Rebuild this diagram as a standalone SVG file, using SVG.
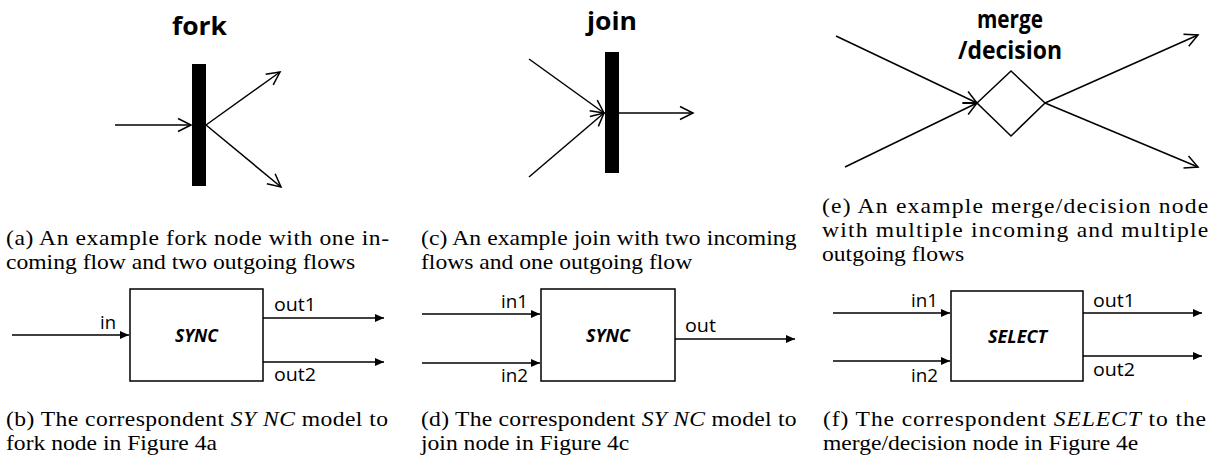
<svg xmlns="http://www.w3.org/2000/svg" width="1219" height="465" viewBox="0 0 1219 465">
<style>
.title{font-family:"Open Sans","Liberation Sans",sans-serif;font-weight:bold;font-size:25px;fill:#000}
.lbl{font-family:"Open Sans","Liberation Sans",sans-serif;font-size:18px;fill:#000}
.blk{font-family:"Open Sans","Liberation Sans",sans-serif;font-size:17px;font-weight:bold;font-style:italic;fill:#000}
.cap{font-family:"Liberation Serif","Times New Roman",serif;font-size:22px;fill:#000}
.flow{stroke:#000;stroke-width:1.5;fill:none;marker-end:url(#open)}
.sig{stroke:#000;stroke-width:1.5;fill:none;marker-end:url(#solid)}
.box{fill:#fff;stroke:#000;stroke-width:1.5}
</style>
<defs>
<marker id="open" viewBox="-15 -8 17 16" refX="0" refY="0" markerWidth="17" markerHeight="16" orient="auto" markerUnits="userSpaceOnUse">
<path d="M-13,-6.5 L0,0 L-13,6.5" fill="none" stroke="#000" stroke-width="1.5"/>
</marker>
<marker id="solid" viewBox="-10 -5 11 10" refX="0" refY="0" markerWidth="11" markerHeight="10" orient="auto" markerUnits="userSpaceOnUse">
<path d="M-9,-4 L0,0 L-9,4 Z" fill="#000"/>
</marker>
</defs>

<!-- (a) fork -->
<g id="fork">
<text class="title" x="172" y="35" textLength="55" lengthAdjust="spacingAndGlyphs">fork</text>
<rect x="192" y="64" width="14" height="122" fill="#000"/>
</g>
<!-- (c) join -->
<g id="join">
<text class="title" x="587" y="30" textLength="50" lengthAdjust="spacingAndGlyphs">join</text>
<rect x="605" y="52" width="14" height="121" fill="#000"/>
</g>
<!-- (e) merge/decision -->
<g id="merge">
<text class="title" x="977" y="28" textLength="66" lengthAdjust="spacingAndGlyphs">merge</text>
<text class="title" x="958" y="59" textLength="104" lengthAdjust="spacingAndGlyphs">/decision</text>
<polygon points="977,103 1011,71 1045,103 1011,136" fill="#fff" stroke="#000" stroke-width="1.5"/>
</g>

<!-- (b) SYNC -->
<g id="sync-b">
<rect class="box" x="130" y="289" width="133" height="92"/>
<text class="blk" x="175" y="342" textLength="43" lengthAdjust="spacingAndGlyphs">SYNC</text>
<text class="lbl" x="100" y="329" textLength="16" lengthAdjust="spacingAndGlyphs">in</text>
<text class="lbl" x="274" y="311" textLength="42" lengthAdjust="spacingAndGlyphs">out1</text>
<text class="lbl" x="274" y="381" textLength="42" lengthAdjust="spacingAndGlyphs">out2</text>
</g>
<!-- (d) SYNC -->
<g id="sync-d">
<rect class="box" x="541" y="289" width="134" height="92"/>
<text class="blk" x="586" y="342" textLength="44" lengthAdjust="spacingAndGlyphs">SYNC</text>
<text class="lbl" x="501" y="308" textLength="27" lengthAdjust="spacingAndGlyphs">in1</text>
<text class="lbl" x="501" y="382" textLength="27" lengthAdjust="spacingAndGlyphs">in2</text>
<text class="lbl" x="685" y="332" textLength="31" lengthAdjust="spacingAndGlyphs">out</text>
</g>
<!-- (f) SELECT -->
<g id="select-f">
<rect class="box" x="951" y="291" width="132" height="90"/>
<text class="blk" x="988" y="343" textLength="59" lengthAdjust="spacingAndGlyphs">SELECT</text>
<text class="lbl" x="911" y="307" textLength="27" lengthAdjust="spacingAndGlyphs">in1</text>
<text class="lbl" x="911" y="382" textLength="27" lengthAdjust="spacingAndGlyphs">in2</text>
<text class="lbl" x="1093" y="307" textLength="42" lengthAdjust="spacingAndGlyphs">out1</text>
<text class="lbl" x="1093" y="376" textLength="42" lengthAdjust="spacingAndGlyphs">out2</text>
</g>

<g id="connectors">
<line class="flow" x1="115" y1="125" x2="191" y2="125"/>
<line class="flow" x1="206" y1="125" x2="280" y2="72"/>
<line class="flow" x1="206" y1="125" x2="281" y2="187"/>
<line class="flow" x1="529" y1="59" x2="604" y2="113"/>
<line class="flow" x1="529" y1="177" x2="604" y2="113"/>
<line class="flow" x1="619" y1="113" x2="693" y2="113"/>
<line class="flow" x1="836" y1="36" x2="977" y2="103"/>
<line class="flow" x1="845" y1="167" x2="977" y2="103"/>
<line class="flow" x1="1045" y1="103" x2="1198" y2="35"/>
<line class="flow" x1="1045" y1="103" x2="1198" y2="167"/>
<line class="sig" x1="12" y1="335" x2="129" y2="335"/>
<line class="sig" x1="263" y1="318" x2="384" y2="318"/>
<line class="sig" x1="263" y1="362" x2="384" y2="362"/>
<line class="sig" x1="422" y1="314" x2="540" y2="314"/>
<line class="sig" x1="422" y1="363" x2="540" y2="363"/>
<line class="sig" x1="675" y1="339" x2="795" y2="339"/>
<line class="sig" x1="833" y1="313" x2="950" y2="313"/>
<line class="sig" x1="833" y1="361" x2="950" y2="361"/>
<line class="sig" x1="1083" y1="313" x2="1202" y2="313"/>
<line class="sig" x1="1083" y1="356" x2="1202" y2="356"/>
</g>

<g id="captions">
<g transform="translate(6,0) scale(1.073,1)">
<text class="cap" x="0" y="245" textLength="357" lengthAdjust="spacing">(a) An example fork node with one in-</text>
<text class="cap" x="0" y="269">coming flow and two outgoing flows</text>
</g>
<g transform="translate(421,0) scale(1.073,1)">
<text class="cap" x="0" y="245" textLength="350" lengthAdjust="spacing">(c) An example join with two incoming</text>
<text class="cap" x="0" y="269">flows and one outgoing flow</text>
</g>
<g transform="translate(822,0) scale(1.073,1)">
<text class="cap" x="0" y="213" textLength="360" lengthAdjust="spacing">(e) An example merge/decision node</text>
<text class="cap" x="0" y="237" textLength="360" lengthAdjust="spacing">with multiple incoming and multiple</text>
<text class="cap" x="0" y="261">outgoing flows</text>
</g>
<g transform="translate(6,0) scale(1.073,1)">
<text class="cap" x="0" y="426" textLength="356" lengthAdjust="spacing">(b) The correspondent <tspan font-style="italic">SY NC</tspan> model to</text>
<text class="cap" x="0" y="450">fork node in Figure 4a</text>
</g>
<g transform="translate(421,0) scale(1.073,1)">
<text class="cap" x="0" y="426" textLength="350" lengthAdjust="spacing">(d) The correspondent <tspan font-style="italic">SY NC</tspan> model to</text>
<text class="cap" x="0" y="450">join node in Figure 4c</text>
</g>
<g transform="translate(823,0) scale(1.073,1)">
<text class="cap" x="0" y="426" textLength="357" lengthAdjust="spacing">(f) The correspondent <tspan font-style="italic">SELECT</tspan> to the</text>
<text class="cap" x="0" y="450">merge/decision node in Figure 4e</text>
</g>
</g>
</svg>
